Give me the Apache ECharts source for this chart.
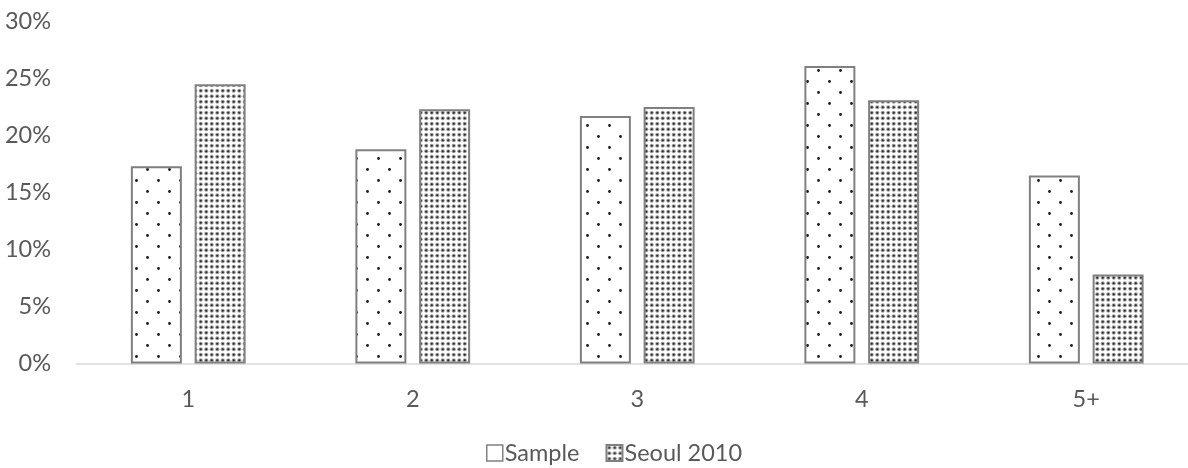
<!DOCTYPE html>
<html>
<head>
<meta charset="utf-8">
<script src="https://cdn.jsdelivr.net/npm/echarts@6/dist/echarts.min.js"></script>
<style>
html,body{margin:0;padding:0;background:#fff;}
#chart{width:1188px;height:468px;}
</style>
</head>
<body>
<div id="chart"></div>
<script>
const categories = ['1', '2', '3', '4', '5+'];
const sampleValues = [17.3, 18.8, 21.7, 26.1, 16.5];
const seoulValues = [24.5, 22.3, 22.5, 23.1, 7.8];
const seriesNames = ['Sample', 'Seoul 2010'];
const yTicks = [0, 5, 10, 15, 20, 25, 30];

function sparseDots() {
  const c = document.createElement('canvas');
  c.width = 22; c.height = 22;
  const g = c.getContext('2d');
  g.fillStyle = '#ffffff';
  g.fillRect(0, 0, 22, 22);
  g.fillStyle = '#1a1a1a';
  g.beginPath(); g.arc(4.5, 4.5, 1.4, 0, Math.PI * 2); g.fill();
  g.beginPath(); g.arc(15.5, 15.5, 1.4, 0, Math.PI * 2); g.fill();
  return c;
}
function denseDots() {
  const c = document.createElement('canvas');
  c.width = 11; c.height = 11;
  const g = c.getContext('2d');
  g.fillStyle = '#ffffff';
  g.fillRect(0, 0, 11, 11);
  const pts = [[2.75, 2.75], [8.25, 2.75], [2.75, 8.25], [8.25, 8.25]];
  pts.forEach(p => {
    g.fillStyle = '#a0a0a0';
    g.beginPath(); g.arc(p[0], p[1], 2.1, 0, Math.PI * 2); g.fill();
    g.fillStyle = '#2a2a2a';
    g.beginPath(); g.arc(p[0], p[1], 1.1, 0, Math.PI * 2); g.fill();
  });
  return c;
}

const chart = echarts.init(document.getElementById('chart'), null, {renderer: 'canvas'});
const textColor = '#595959';
const fontFamily = 'Lato, "Open Sans", sans-serif';
const fontSize = 23.5;

chart.setOption({
  animation: false,
  grid: {left: 76, width: 1122.5, top: 21.5, height: 342, containLabel: false, outerBoundsMode: 'none'},
  legend: {
    data: [
      {name: seriesNames[0], itemStyle: {color: '#ffffff', borderColor: '#808080', borderWidth: 1.5}},
      {name: seriesNames[1]}
    ],
    left: 481,
    top: 436,
    itemWidth: 16,
    itemHeight: 16,
    itemGap: 26,
    icon: 'rect',
    textStyle: {color: textColor, fontSize: fontSize, fontFamily: fontFamily, padding: [0, 0, 0, -3]}
  },
  xAxis: {
    type: 'category',
    data: categories,
    axisLine: {lineStyle: {color: '#d9d9d9', width: 1.5}},
    axisTick: {show: false},
    axisLabel: {color: textColor, fontSize: fontSize, fontFamily: fontFamily, margin: 24}
  },
  yAxis: {
    type: 'value',
    min: yTicks[0],
    max: yTicks[yTicks.length - 1],
    interval: 5,
    splitLine: {show: false},
    axisLine: {show: false},
    axisTick: {show: false},
    axisLabel: {color: textColor, fontSize: fontSize, fontFamily: fontFamily, margin: 25, formatter: v => v + '%'}
  },
  series: [
    {
      name: seriesNames[0],
      type: 'bar',
      data: sampleValues,
      barWidth: 51,
      barGap: '25%',
      itemStyle: {color: {image: sparseDots(), repeat: 'repeat'}, borderColor: '#808080', borderWidth: 2}
    },
    {
      name: seriesNames[1],
      type: 'bar',
      data: seoulValues,
      barWidth: 51,
      barGap: '25%',
      itemStyle: {color: {image: denseDots(), repeat: 'repeat'}, borderColor: '#808080', borderWidth: 2}
    }
  ]
});
</script>
</body>
</html>
